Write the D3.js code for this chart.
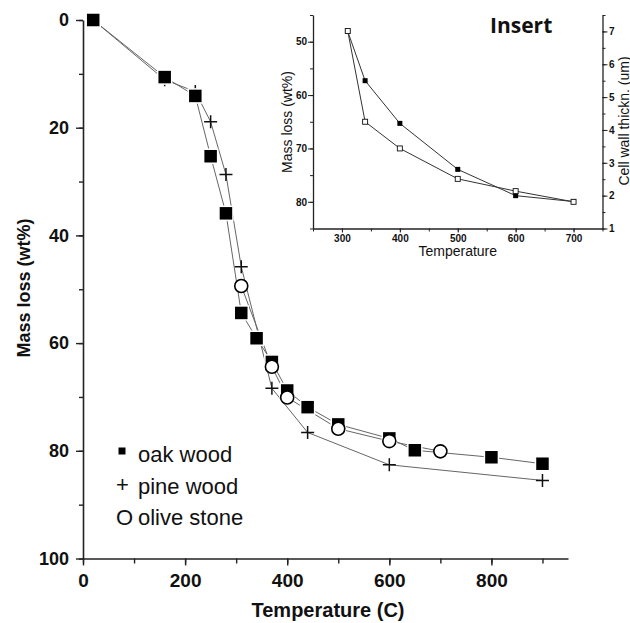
<!DOCTYPE html>
<html>
<head>
<meta charset="utf-8">
<script src="https://cdn.jsdelivr.net/npm/d3@7"></script>
<style>
  body { margin: 0; background: #fff; }
  svg { display: block; }
  text { font-family: "Liberation Sans", Arial, sans-serif; fill: #111; }
</style>
</head>
<body>
<div id="chart"></div>
<script>
// main chart data (temperature in C, mass loss in wt%)
var oakTemp = [20, 160, 220, 250, 280, 310, 340, 370, 400, 440, 500, 600, 650, 800, 900];
var oakLoss = [0, 10.6, 14.1, 25.3, 35.9, 54.4, 59.1, 63.5, 68.8, 71.9, 75.1, 77.7, 79.9, 81.2, 82.4];
var pineTemp = [20, 160, 220, 250, 280, 310, 370, 440, 600, 900];
var pineLoss = [0, 11.1, 13.3, 18.9, 28.7, 45.8, 68.4, 76.6, 82.6, 85.5];
var oliveTemp = [310, 370, 400, 500, 600, 700];
var oliveLoss = [49.4, 64.4, 70.1, 75.9, 78.2, 80.1];

// insert data
var insTemp = [310, 340, 400, 500, 600, 700];
var insLoss = [48.0, 65.0, 70.0, 75.7, 78.0, 80.0];
var insWall = [7.0, 5.5, 4.2, 2.8, 2.0, 1.82];

var xTicks = [0, 200, 400, 600, 800];
var yTicks = [0, 20, 40, 60, 80, 100];
var legendLabels = ["oak wood", "pine wood", "olive stone"];

var svg = d3.select("#chart").append("svg")
  .attr("width", 630).attr("height", 623);

function zip(a, b) { return a.map(function(d, i) { return [d, b[i]]; }); }

// ---- main plot ----
var x = d3.scaleLinear().domain([0, 950]).range([83, 568]);
var y = d3.scaleLinear().domain([0, 100]).range([20, 558.5]);

// minor ticks first
svg.append("g").attr("transform", "translate(0,558.5)")
  .call(d3.axisBottom(x).tickValues(d3.range(0, 901, 100)).tickSize(5).tickFormat("").tickSizeOuter(0))
  .call(function(g) { g.select(".domain").remove(); });
svg.append("g").attr("transform", "translate(83,0)")
  .call(d3.axisLeft(y).tickValues(d3.range(0, 101, 10)).tickSize(4).tickFormat("").tickSizeOuter(0))
  .call(function(g) { g.select(".domain").remove(); });

var xAxis = svg.append("g").attr("transform", "translate(0,558.5)")
  .call(d3.axisBottom(x).tickValues(xTicks).tickSize(7).tickPadding(8).tickSizeOuter(0));
xAxis.selectAll("text").style("font-size", "19px").style("font-weight", "bold");

var yAxis = svg.append("g").attr("transform", "translate(83,0)")
  .call(d3.axisLeft(y).tickValues(yTicks).tickSize(7).tickPadding(7).tickSizeOuter(0));
yAxis.selectAll("text").style("font-size", "18px").style("font-weight", "bold");

svg.selectAll(".domain").attr("stroke", "#222").attr("stroke-width", 1.6);
svg.selectAll(".tick line").attr("stroke", "#222").attr("stroke-width", 1.4);

svg.append("text").attr("x", 328).attr("y", 617)
  .attr("text-anchor", "middle").style("font-size", "20px").style("font-weight", "bold")
  .text("Temperature (C)");
svg.append("text").attr("transform", "translate(30,288) rotate(-90)")
  .attr("text-anchor", "middle").style("font-size", "18px").style("font-weight", "bold")
  .text("Mass loss (wt%)");

var line = d3.line().x(function(d) { return x(d[0]); }).y(function(d) { return y(d[1]); });

[zip(pineTemp, pineLoss), zip(oakTemp, oakLoss), zip(oliveTemp, oliveLoss)].forEach(function(s) {
  svg.append("path").datum(s).attr("d", line)
    .attr("fill", "none").attr("stroke", "#666").attr("stroke-width", 1);
});

// pine: plus signs
svg.selectAll(".pine").data(zip(pineTemp, pineLoss)).enter().append("path")
  .attr("transform", function(d) { return "translate(" + x(d[0]) + "," + y(d[1]) + ")"; })
  .attr("d", "M-6.5,0H6.5M0,-6.5V6.5")
  .attr("stroke", "#111").attr("stroke-width", 1.5).attr("fill", "none");

// oak: filled squares
svg.selectAll(".oak").data(zip(oakTemp, oakLoss)).enter().append("rect")
  .attr("x", function(d) { return x(d[0]) - 7; })
  .attr("y", function(d) { return y(d[1]) - 7; })
  .attr("width", 14).attr("height", 14)
  .attr("fill", "#000").attr("stroke", "#fff").attr("stroke-width", 1.5);

// olive: open circles
svg.selectAll(".olive").data(zip(oliveTemp, oliveLoss)).enter().append("circle")
  .attr("cx", function(d) { return x(d[0]); })
  .attr("cy", function(d) { return y(d[1]); })
  .attr("r", 6.5)
  .attr("fill", "#fff").attr("stroke", "#000").attr("stroke-width", 1.6);

// legend
var leg = svg.append("g");
leg.append("rect").attr("x", 118.5).attr("y", 447.5).attr("width", 7).attr("height", 7).attr("fill", "#000");
leg.append("text").attr("x", 116).attr("y", 492).style("font-size", "22px").text("+");
leg.append("text").attr("x", 116).attr("y", 525).style("font-size", "22px").text("O");
leg.selectAll(".lbl").data(legendLabels).enter().append("text")
  .attr("x", 138).attr("y", function(d, i) { return 462 + i * 31.5; })
  .style("font-size", "22px").text(function(d) { return d; });

// ---- insert ----
var ix = d3.scaleLinear().domain([250, 750]).range([313, 602.5]);
var iyL = d3.scaleLinear().domain([45, 85]).range([15, 228.5]);
var iyR = d3.scaleLinear().domain([1, 7.5]).range([228.5, 15]);
var ins = svg.append("g");

ins.append("g").attr("transform", "translate(0,228.5)")
  .call(d3.axisBottom(ix).tickValues(d3.range(250, 751, 50)).tickSize(3).tickFormat("").tickSizeOuter(0))
  .call(function(g) { g.select(".domain").remove(); });
ins.append("g").attr("transform", "translate(313,0)")
  .call(d3.axisLeft(iyL).tickValues(d3.range(45, 86, 5)).tickSize(3).tickFormat("").tickSizeOuter(0))
  .call(function(g) { g.select(".domain").remove(); });
ins.append("g").attr("transform", "translate(602.5,0)")
  .call(d3.axisRight(iyR).tickValues(d3.range(1, 7.6, 0.5)).tickSize(3).tickFormat("").tickSizeOuter(0))
  .call(function(g) { g.select(".domain").remove(); });

var ixa = ins.append("g").attr("transform", "translate(0,228.5)")
  .call(d3.axisBottom(ix).tickValues([300, 400, 500, 600, 700]).tickSize(4).tickPadding(2).tickSizeOuter(0));
var iyla = ins.append("g").attr("transform", "translate(313,0)")
  .call(d3.axisLeft(iyL).tickValues([50, 60, 70, 80]).tickSize(5).tickPadding(1).tickSizeOuter(0));
var iyra = ins.append("g").attr("transform", "translate(602.5,0)")
  .call(d3.axisRight(iyR).tickValues([1, 2, 3, 4, 5, 6, 7]).tickFormat(d3.format("d"))
    .tickSize(5).tickPadding(1.5).tickSizeOuter(0));
ins.selectAll("text").style("font-size", "10px").style("font-weight", "bold");
ins.selectAll(".domain").attr("stroke", "#222").attr("stroke-width", 1.3);
ins.selectAll(".tick line").attr("stroke", "#222").attr("stroke-width", 1);

ins.append("text").attr("x", 457.75).attr("y", 256)
  .attr("text-anchor", "middle").style("font-size", "14px").text("Temperature");
ins.append("text").attr("transform", "translate(292,122) rotate(-90)")
  .attr("text-anchor", "middle").style("font-size", "14px").text("Mass loss (wt%)");
ins.append("text").attr("transform", "translate(628.5,121) rotate(-90)")
  .attr("text-anchor", "middle").style("font-size", "14px").text("Cell wall thickn. (um)");
ins.append("text").attr("x", 490).attr("y", 33)
  .style("font-family", "'Open Sans', sans-serif").style("font-size", "21px").style("font-weight", "bold")
  .text("Insert");

var lossLine = d3.line().x(function(d) { return ix(d[0]); }).y(function(d) { return iyL(d[1]); });
var wallLine = d3.line().x(function(d) { return ix(d[0]); }).y(function(d) { return iyR(d[1]); });
ins.append("path").datum(zip(insTemp, insLoss)).attr("d", lossLine)
  .attr("fill", "none").attr("stroke", "#333").attr("stroke-width", 1);
ins.append("path").datum(zip(insTemp, insWall)).attr("d", wallLine)
  .attr("fill", "none").attr("stroke", "#333").attr("stroke-width", 1);

ins.selectAll(".wall").data(zip(insTemp, insWall)).enter().append("rect")
  .attr("x", function(d) { return ix(d[0]) - 2.5; })
  .attr("y", function(d) { return iyR(d[1]) - 2.5; })
  .attr("width", 5).attr("height", 5).attr("fill", "#000");
ins.selectAll(".loss").data(zip(insTemp, insLoss)).enter().append("rect")
  .attr("x", function(d) { return ix(d[0]) - 2.5; })
  .attr("y", function(d) { return iyL(d[1]) - 2.5; })
  .attr("width", 5).attr("height", 5).attr("fill", "#fff").attr("stroke", "#111").attr("stroke-width", 0.9);
</script>
</body>
</html>
